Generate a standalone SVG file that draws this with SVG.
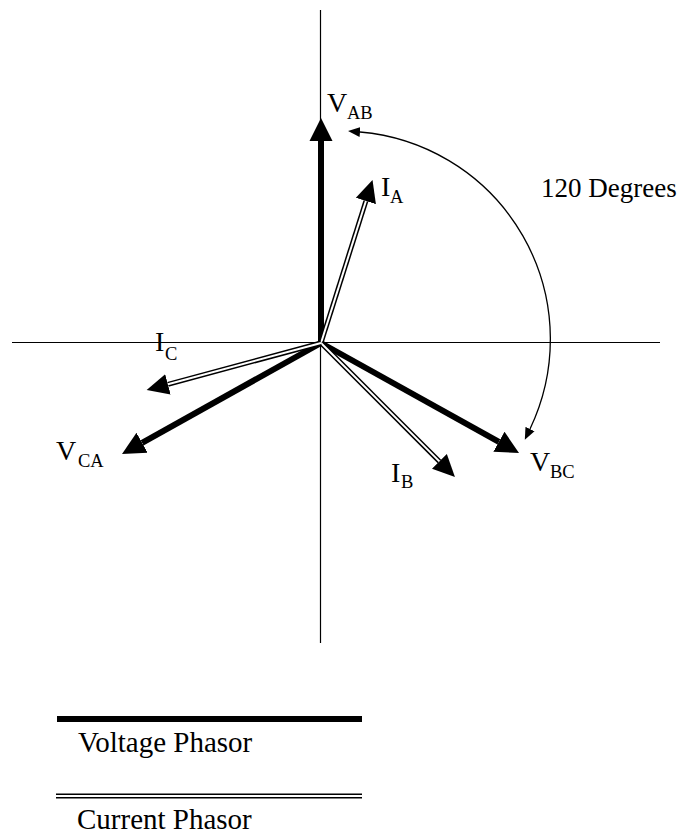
<svg xmlns="http://www.w3.org/2000/svg" width="688" height="834" viewBox="0 0 688 834">
<style>
.axis{stroke:#000;stroke-width:1.2;fill:none}
.vph{stroke:#000;stroke-width:6;fill:none}
.iout{stroke:#000;stroke-width:5;fill:none}
.iin{stroke:#fff;stroke-width:2;fill:none}
.arc{stroke:#000;stroke-width:1.3;fill:none}
text{font-family:"Liberation Serif","Times New Roman",serif;fill:#000}
.lbl{font-size:28px}
.sub{font-size:18.5px}
.leg{font-size:29px}
</style>
<defs>
<marker id="headV" markerUnits="userSpaceOnUse" markerWidth="24" markerHeight="24" viewBox="0 -12 24 24" refX="0" refY="0" orient="auto"><path d="M0,-11.5 L23,0 L0,11.5 z" fill="#000"/></marker>
<marker id="headI" markerUnits="userSpaceOnUse" markerWidth="23" markerHeight="22" viewBox="0 -11 23 22" refX="0" refY="0" orient="auto"><path d="M0,-10.5 L22,0 L0,10.5 z" fill="#000"/></marker>
<marker id="headArc" markerUnits="userSpaceOnUse" markerWidth="13" markerHeight="12" viewBox="0 -6 13 12" refX="0" refY="0" orient="auto-start-reverse"><path d="M0,-5 L12,0 L0,5 z" fill="#000"/></marker>
</defs>
<g id="axes">
<line class="axis" x1="320.5" y1="10" x2="320.5" y2="643"/>
<line class="axis" x1="12" y1="342.5" x2="660" y2="342.5"/>
</g>
<g id="connectors">
<g id="V_AB_phasor"><line class="vph" x1="321" y1="343" x2="321" y2="141" marker-end="url(#headV)"/></g>
<g id="V_BC_phasor"><line class="vph" x1="321" y1="343" x2="498.9" y2="441.8" marker-end="url(#headV)"/></g>
<g id="V_CA_phasor"><line class="vph" x1="321" y1="343" x2="142.1" y2="442.8" marker-end="url(#headV)"/></g>
<g id="I_A_phasor"><line class="iout" x1="321" y1="343" x2="365.9" y2="201" marker-end="url(#headI)"/><line class="iin" x1="321" y1="343" x2="365.9" y2="201"/></g>
<g id="I_B_phasor"><line class="iout" x1="321" y1="343" x2="439.4" y2="461.4" marker-end="url(#headI)"/><line class="iin" x1="321" y1="343" x2="439.4" y2="461.4"/></g>
<g id="I_C_phasor"><line class="iout" x1="321" y1="343" x2="167.9" y2="384.3" marker-end="url(#headI)"/><line class="iin" x1="321" y1="343" x2="167.9" y2="384.3"/></g>
<g id="angle_arc"><path class="arc" d="M360,132 A208,208 0 0 1 530,429" marker-start="url(#headArc)" marker-end="url(#headArc)"/></g>
</g>
<g id="label_VAB"><text class="lbl" x="327" y="112">V</text><text class="sub" x="347" y="119">AB</text></g>
<g id="label_IA"><text class="lbl" x="381" y="196">I</text><text class="sub" x="390" y="203">A</text></g>
<g id="label_IC"><text class="lbl" x="155" y="351">I</text><text class="sub" x="165" y="360">C</text></g>
<g id="label_VCA"><text class="lbl" x="56" y="460">V</text><text class="sub" x="78" y="467">CA</text></g>
<g id="label_VBC"><text class="lbl" x="530" y="471">V</text><text class="sub" x="550" y="478">BC</text></g>
<g id="label_IB"><text class="lbl" x="391" y="482">I</text><text class="sub" x="401" y="488">B</text></g>
<g id="label_angle"><text class="lbl" x="541" y="197" style="font-size:27px">120 Degrees</text></g>
<g id="legend_voltage"><line class="vph" x1="57" y1="719" x2="362" y2="719"/><text class="leg" x="78" y="752">Voltage Phasor</text></g>
<g id="legend_current"><line class="iout" x1="56" y1="796" x2="362" y2="796"/><line class="iin" x1="56" y1="796" x2="362" y2="796"/><text class="leg" x="77" y="829">Current Phasor</text></g>
</svg>
